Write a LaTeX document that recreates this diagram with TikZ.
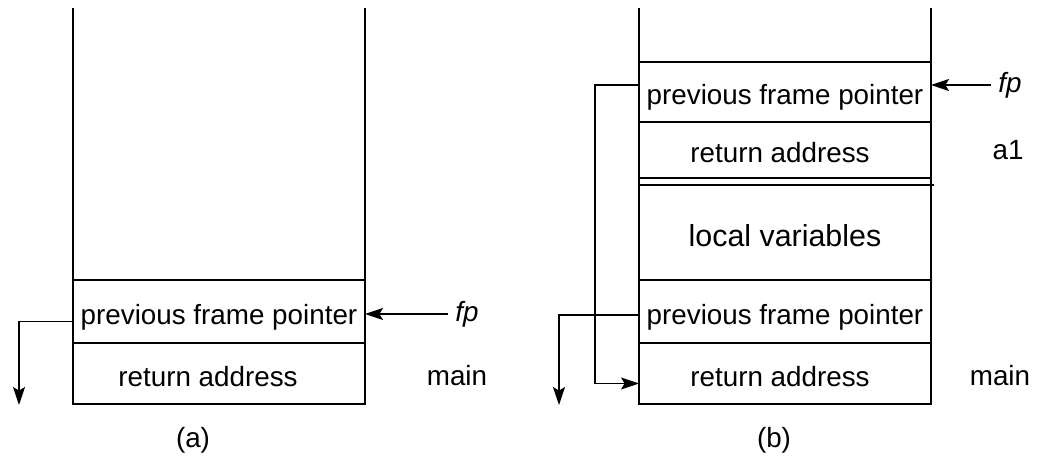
\documentclass[tikz,border=0pt]{standalone}
\usepackage{fontspec}
\setmainfont{Liberation Sans}
\usetikzlibrary{positioning,arrows.meta}

\begin{document}
\begin{tikzpicture}[x=0.5pt,y=-0.5pt,
cell/.style={
  draw,
  rectangle,
  line width=0.65pt,
  inner sep=0pt,
  outer sep=0pt,
  text height=15pt,
  text depth=2pt,
  minimum width=146pt,
  font=\fontsize{13.9}{16}\selectfont},
lbl/.style={font=\fontsize{13.9}{16}\selectfont},
ptr/.style={
  line width=0.65pt,
  -{Stealth[length=9pt,width=6pt,inset=1.8pt]}}
]
\useasboundingbox (0,0) rectangle (1039,458);
% stack (a)
\draw[line width=0.65pt] (73,8) -- (73,404) (365,8) -- (365,404);
\node[cell, minimum height=31.5pt, anchor=north west] (pfpA) at (73,280) {previous frame pointer};
\node[cell, minimum height=30.5pt, below=0pt of pfpA] (retA) {\hspace*{-11pt}return address};
\node[lbl] (fpA) at (467,314) {\itshape fp};
\node[lbl] (mainA) at (457,376) {main};
\node[lbl] (capA) at (193,440) {(a)};
\coordinate (dnA) at (19,405);
\draw[ptr] (fpA.west) -- (fpA.west -| pfpA.east);
\draw[ptr] ([yshift=-5pt]pfpA.west) -| (dnA);
% stack (b)
\draw[line width=0.65pt] (639,8) -- (639,404) (931,8) -- (931,404);
\node[cell, minimum height=30pt, anchor=north west] (pfpB) at (639,62) {previous frame pointer};
\node[cell, minimum height=28pt, below=0pt of pfpB] (retB) {\hspace*{-5pt}return address};
\node[cell, minimum height=47.5pt, anchor=north west, text height=16pt, font=\fontsize{15.2}{18}\selectfont] (locB) at (639,185) {local variables};
\node[cell, minimum height=31.5pt, below=0pt of locB] (pfpC) {previous frame pointer};
\node[cell, minimum height=30.5pt, below=0pt of pfpC] (retC) {\hspace*{-5pt}return address};
\draw[line width=0.65pt] (locB.north east) -- ++(3,0);
\node[lbl] (fpB) at (1010,85) {\itshape fp};
\node[lbl] (aone) at (1008,150) {a1};
\node[lbl] (mainB) at (1000,376) {main};
\node[lbl] (capB) at (774,440) {(b)};
\coordinate (dnB) at (559,405);
\draw[ptr] (fpB.west) -- (fpB.west -| pfpB.east);
\draw[ptr] ([yshift=3.5pt]pfpB.west) -- ++(-44,0) |- ([yshift=-5pt]retC.west);
\draw[ptr] ([yshift=-1.75pt]pfpC.west) -| (dnB);
\end{tikzpicture}
\end{document}
